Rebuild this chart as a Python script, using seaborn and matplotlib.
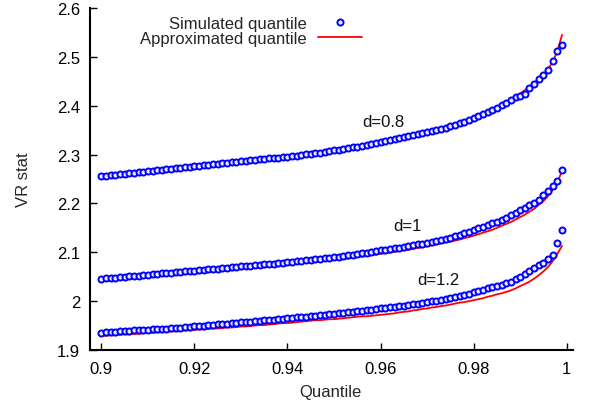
import numpy as np
import pandas as pd
import matplotlib
matplotlib.use("Agg")
import matplotlib.pyplot as plt
from matplotlib.lines import Line2D
import seaborn as sns

quantiles = [round(0.900 + 0.001 * i, 3) for i in range(100)]

sim_d08 = [
    2.256, 2.257, 2.258, 2.259, 2.260, 2.261, 2.262, 2.263, 2.264, 2.265,
    2.266, 2.267, 2.268, 2.269, 2.270, 2.271, 2.272, 2.273, 2.274, 2.275,
    2.276, 2.277, 2.278, 2.279, 2.280, 2.281, 2.282, 2.283, 2.284, 2.285,
    2.286, 2.287, 2.288, 2.289, 2.290, 2.291, 2.292, 2.293, 2.294, 2.295,
    2.296, 2.297, 2.298, 2.299, 2.301, 2.302, 2.303, 2.304, 2.306, 2.307,
    2.309, 2.310, 2.312, 2.313, 2.315, 2.316, 2.318, 2.320, 2.322, 2.324,
    2.326, 2.328, 2.330, 2.332, 2.334, 2.336, 2.338, 2.340, 2.342, 2.344,
    2.346, 2.348, 2.351, 2.353, 2.355, 2.358, 2.361, 2.364, 2.367, 2.371,
    2.375, 2.379, 2.383, 2.387, 2.391, 2.396, 2.401, 2.406, 2.412, 2.417,
    2.420, 2.423, 2.436, 2.445, 2.454, 2.463, 2.473, 2.491, 2.512, 2.525,
]
approx_d08 = [
    2.254, 2.255, 2.256, 2.257, 2.258, 2.259, 2.260, 2.261, 2.262, 2.263,
    2.264, 2.265, 2.266, 2.267, 2.268, 2.269, 2.270, 2.271, 2.272, 2.273,
    2.274, 2.275, 2.276, 2.277, 2.278, 2.279, 2.280, 2.281, 2.282, 2.283,
    2.284, 2.285, 2.286, 2.287, 2.288, 2.289, 2.290, 2.291, 2.292, 2.294,
    2.295, 2.296, 2.297, 2.298, 2.299, 2.301, 2.302, 2.303, 2.305, 2.306,
    2.307, 2.309, 2.310, 2.312, 2.313, 2.315, 2.317, 2.318, 2.320, 2.322,
    2.324, 2.326, 2.328, 2.330, 2.332, 2.334, 2.336, 2.338, 2.341, 2.343,
    2.345, 2.348, 2.350, 2.353, 2.356, 2.358, 2.361, 2.364, 2.368, 2.371,
    2.375, 2.379, 2.383, 2.387, 2.391, 2.396, 2.401, 2.406, 2.412, 2.418,
    2.425, 2.432, 2.439, 2.447, 2.455, 2.464, 2.475, 2.490, 2.512, 2.545,
]
sim_d10 = [
    2.046, 2.047, 2.047, 2.048, 2.049, 2.050, 2.051, 2.052, 2.052, 2.053,
    2.054, 2.055, 2.056, 2.057, 2.057, 2.058, 2.059, 2.060, 2.061, 2.061,
    2.062, 2.063, 2.064, 2.065, 2.066, 2.066, 2.067, 2.068, 2.069, 2.070,
    2.071, 2.072, 2.072, 2.073, 2.074, 2.075, 2.076, 2.077, 2.078, 2.079,
    2.080, 2.081, 2.082, 2.083, 2.084, 2.085, 2.086, 2.087, 2.088, 2.089,
    2.090, 2.091, 2.092, 2.094, 2.095, 2.096, 2.098, 2.099, 2.101, 2.102,
    2.104, 2.105, 2.106, 2.108, 2.109, 2.111, 2.112, 2.114, 2.116, 2.117,
    2.119, 2.121, 2.123, 2.125, 2.127, 2.130, 2.133, 2.136, 2.139, 2.142,
    2.146, 2.149, 2.152, 2.156, 2.159, 2.163, 2.167, 2.171, 2.176, 2.181,
    2.186, 2.191, 2.196, 2.201, 2.208, 2.217, 2.225, 2.235, 2.245, 2.268,
]
approx_d10 = [
    2.041, 2.042, 2.042, 2.043, 2.044, 2.045, 2.046, 2.046, 2.047, 2.048,
    2.049, 2.049, 2.050, 2.051, 2.052, 2.053, 2.053, 2.054, 2.055, 2.056,
    2.057, 2.057, 2.058, 2.059, 2.060, 2.061, 2.062, 2.062, 2.063, 2.064,
    2.065, 2.066, 2.067, 2.068, 2.068, 2.069, 2.070, 2.071, 2.072, 2.073,
    2.074, 2.075, 2.076, 2.077, 2.078, 2.079, 2.080, 2.081, 2.082, 2.083,
    2.084, 2.085, 2.086, 2.087, 2.089, 2.090, 2.091, 2.092, 2.094, 2.095,
    2.097, 2.098, 2.099, 2.101, 2.102, 2.104, 2.105, 2.107, 2.109, 2.110,
    2.112, 2.114, 2.116, 2.118, 2.120, 2.122, 2.124, 2.126, 2.129, 2.131,
    2.134, 2.137, 2.140, 2.143, 2.146, 2.150, 2.154, 2.158, 2.162, 2.167,
    2.172, 2.177, 2.183, 2.189, 2.197, 2.205, 2.215, 2.228, 2.244, 2.266,
]
sim_d12 = [
    1.935, 1.936, 1.936, 1.937, 1.938, 1.938, 1.939, 1.940, 1.940, 1.941,
    1.941, 1.942, 1.943, 1.943, 1.944, 1.945, 1.946, 1.946, 1.947, 1.948,
    1.949, 1.950, 1.950, 1.951, 1.952, 1.953, 1.954, 1.954, 1.955, 1.956,
    1.957, 1.958, 1.958, 1.959, 1.960, 1.961, 1.962, 1.962, 1.963, 1.964,
    1.965, 1.966, 1.967, 1.968, 1.968, 1.969, 1.970, 1.971, 1.972, 1.973,
    1.974, 1.975, 1.976, 1.977, 1.978, 1.979, 1.980, 1.981, 1.982, 1.983,
    1.985, 1.986, 1.987, 1.988, 1.990, 1.991, 1.992, 1.994, 1.995, 1.997,
    1.998, 2.000, 2.001, 2.003, 2.005, 2.007, 2.009, 2.011, 2.013, 2.015,
    2.018, 2.020, 2.023, 2.026, 2.028, 2.031, 2.034, 2.037, 2.040, 2.045,
    2.050, 2.056, 2.062, 2.067, 2.073, 2.079, 2.086, 2.095, 2.119, 2.146,
]
approx_d12 = [
    1.929, 1.929, 1.930, 1.930, 1.931, 1.932, 1.932, 1.933, 1.933, 1.934,
    1.935, 1.935, 1.936, 1.936, 1.937, 1.938, 1.938, 1.939, 1.940, 1.940,
    1.941, 1.942, 1.942, 1.943, 1.944, 1.944, 1.945, 1.946, 1.946, 1.947,
    1.948, 1.948, 1.949, 1.950, 1.951, 1.951, 1.952, 1.953, 1.954, 1.955,
    1.955, 1.956, 1.957, 1.958, 1.959, 1.960, 1.961, 1.961, 1.962, 1.963,
    1.963, 1.964, 1.965, 1.966, 1.967, 1.968, 1.969, 1.969, 1.970, 1.971,
    1.972, 1.973, 1.974, 1.975, 1.977, 1.978, 1.979, 1.981, 1.982, 1.984,
    1.985, 1.987, 1.988, 1.990, 1.991, 1.993, 1.995, 1.997, 1.998, 2.000,
    2.002, 2.004, 2.006, 2.009, 2.011, 2.014, 2.016, 2.019, 2.022, 2.026,
    2.031, 2.035, 2.040, 2.046, 2.053, 2.061, 2.070, 2.082, 2.097, 2.113,
]

curve_labels = ["d=0.8", "d=1", "d=1.2"]
label_pos_x = [0.956, 0.9627, 0.9678]
label_pos_y = [2.368, 2.154, 2.044]

x_ticks = [0.9, 0.92, 0.94, 0.96, 0.98, 1.0]
x_tick_labels = ["0.9", "0.92", "0.94", "0.96", "0.98", "1"]
y_ticks = [1.9, 2.0, 2.1, 2.2, 2.3, 2.4, 2.5, 2.6]
y_tick_labels = ["1.9", "2", "2.1", "2.2", "2.3", "2.4", "2.5", "2.6"]

sns.set_theme(style="ticks")
plt.rcParams["font.family"] = ["Liberation Sans", "DejaVu Sans"]

FS = 12
fig = plt.figure(figsize=(5.92, 4.10), dpi=100)
ax = fig.add_axes([90 / 592, 1 - 351 / 410, (573 - 90) / 592, (351 - 9) / 410])

sims = [sim_d08, sim_d10, sim_d12]
approxs = [approx_d08, approx_d10, approx_d12]
for s, a in zip(sims, approxs):
    df = pd.DataFrame({"q": quantiles, "sim": s, "approx": a})
    sns.lineplot(data=df, x="q", y="approx", ax=ax, color="#ff0000",
                 linewidth=1.3, zorder=2, estimator=None, sort=False)
    sns.scatterplot(data=df, x="q", y="sim", ax=ax, marker="o", s=19,
                    facecolor="#ececff", edgecolor="#0000ff", linewidth=1.4,
                    zorder=3)

for lab, lx, ly in zip(curve_labels, label_pos_x, label_pos_y):
    ax.text(lx, ly, lab, fontsize=FS, ha="left", va="center", color="#111111")

ax.set_xlim(0.89757, 1.00135)
ax.set_ylim(1.9, 2.6)
ax.set_xticks(x_ticks)
ax.set_xticklabels(x_tick_labels)
ax.set_yticks(y_ticks)
ax.set_yticklabels(y_tick_labels)
ax.tick_params(direction="in", length=5, width=1, labelsize=FS, colors="black")
ax.tick_params(axis="y", pad=7)
ax.tick_params(axis="x", pad=8)
ax.set_xlabel("Quantile", fontsize=FS)
ax.set_ylabel("VR stat", fontsize=FS)
ax.xaxis.set_label_coords((330 - 90) / 483, (351 - 393) / 342)
ax.yaxis.set_label_coords((23 - 90) / 483, (351 - 180) / 342)
ax.xaxis.label.set_verticalalignment("center")
ax.yaxis.label.set_verticalalignment("center")
for sp in ["top", "right"]:
    ax.spines[sp].set_visible(False)
for sp in ["left", "bottom"]:
    ax.spines[sp].set_linewidth(1.5)
    ax.spines[sp].set_color("black")

handles = [
    Line2D([], [], linestyle="none", marker="o", markersize=4.4,
           markerfacecolor="#ececff", markeredgecolor="#0000ff",
           markeredgewidth=1.4),
    Line2D([], [], color="#ff0000", linewidth=1.3),
]
fig.legend(handles, ["Simulated quantile", "Approximated quantile"],
           loc="upper right", bbox_to_anchor=(362 / 592, 1 - 17 / 410),
           frameon=False, markerfirst=False, fontsize=FS, handlelength=2.64,
           handletextpad=0.66, labelspacing=0.0, borderpad=0, borderaxespad=0)

fig.savefig("out.png", dpi=100)
